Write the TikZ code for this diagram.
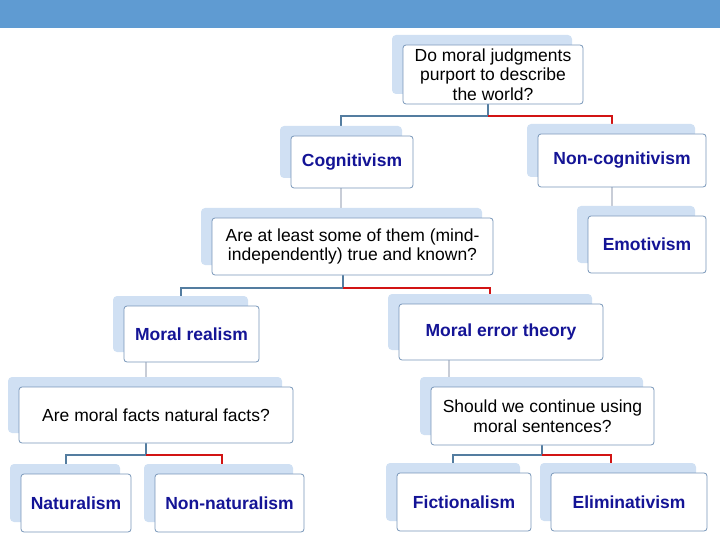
\documentclass[tikz,border=0pt]{standalone}
\usepackage{fontspec}
\setmainfont{Liberation Sans}
\definecolor{banner}{RGB}{95,155,210}
\definecolor{fborder}{RGB}{120,150,185}
\definecolor{bkfill}{RGB}{208,224,243}
\definecolor{labblue}{RGB}{20,20,150}
\definecolor{lnblue}{RGB}{84,125,160}
\definecolor{lnred}{RGB}{210,20,20}
\definecolor{lnthin}{RGB}{200,205,215}
\begin{document}
\begin{tikzpicture}[x=1pt,y=-1pt,
  front/.style={draw=fborder,fill=white,rounded corners=3pt,line width=0.8pt,align=center,inner sep=0pt},
  back/.style={fill=bkfill,rounded corners=4pt},
  lab/.style={font=\bfseries\fontsize{17.5}{19.5}\selectfont,text=labblue},
  q/.style={font=\fontsize{17.5}{19.5}\selectfont},
  bl/.style={draw=lnblue,line width=2.6pt},
  rd/.style={draw=lnred,line width=2.6pt},
  thin/.style={draw=lnthin,line width=1.5pt}]
\useasboundingbox (0,0) rectangle (720,540);
\fill[banner] (0,0) rectangle (720,28);
\newcommand\mybox[7]{%
  \fill[back] (#2-11,#3-10) rectangle (#4-11,#5-10);
  \node[front,#7,minimum width={#4-#2},minimum height={#5-#3}] (#1) at ({(#2+#4)/2},{(#3+#5)/2}) {#6};}
% connectors (drawn first)
\coordinate (q1s) at (488,104);
\coordinate (cogn) at (341,128); \coordinate (noncn) at (612,128);
\draw[bl] (q1s) -- (488,116) -| (cogn);
\draw[rd] (488,116) -| (noncn);
\coordinate (q2s) at (343,275);
\draw[bl] (q2s) -- (343,288) -| (181,298);
\draw[rd] (343,288) -| (490,298);
\draw[bl] (146,443) -- (146,455) -| (66,466);
\draw[rd] (146,455) -| (222,466);
\draw[bl] (542,445) -- (542,455) -| (453,466);
\draw[rd] (542,455) -| (611,466);
\draw[thin] (341,188) -- (341,208);
\draw[thin] (612,187) -- (612,207);
\draw[thin] (146,362) -- (146,377);
\draw[thin] (449,360) -- (449,378);
% boxes
\mybox{q1}{403}{45}{583}{104}{Do moral judgments\\purport to describe\\the world?}{q}
\mybox{cog}{291}{136}{413}{188}{Cognitivism}{lab}
\mybox{noncog}{538}{134}{706}{187}{Non-cognitivism}{lab}
\mybox{q2}{212}{218}{493}{275}{Are at least some of them (mind-\\independently) true and known?}{q}
\mybox{emo}{588}{216}{706}{273}{Emotivism}{lab}
\mybox{real}{124}{306}{259}{362}{Moral realism}{lab}
\mybox{err}{399}{304}{603}{360}{Moral error theory}{lab}
\mybox{q3}{19}{387}{293}{443}{Are moral facts natural facts?}{q}
\mybox{q4}{431}{387}{654}{445}{Should we continue using\\moral sentences?}{q}
\mybox{nat}{21}{474}{131}{532}{Naturalism}{lab}
\mybox{nonnat}{155}{474}{304}{532}{Non-naturalism}{lab}
\mybox{fic}{397}{473}{531}{531}{Fictionalism}{lab}
\mybox{elim}{551}{473}{707}{531}{Eliminativism}{lab}
\end{tikzpicture}
\end{document}
